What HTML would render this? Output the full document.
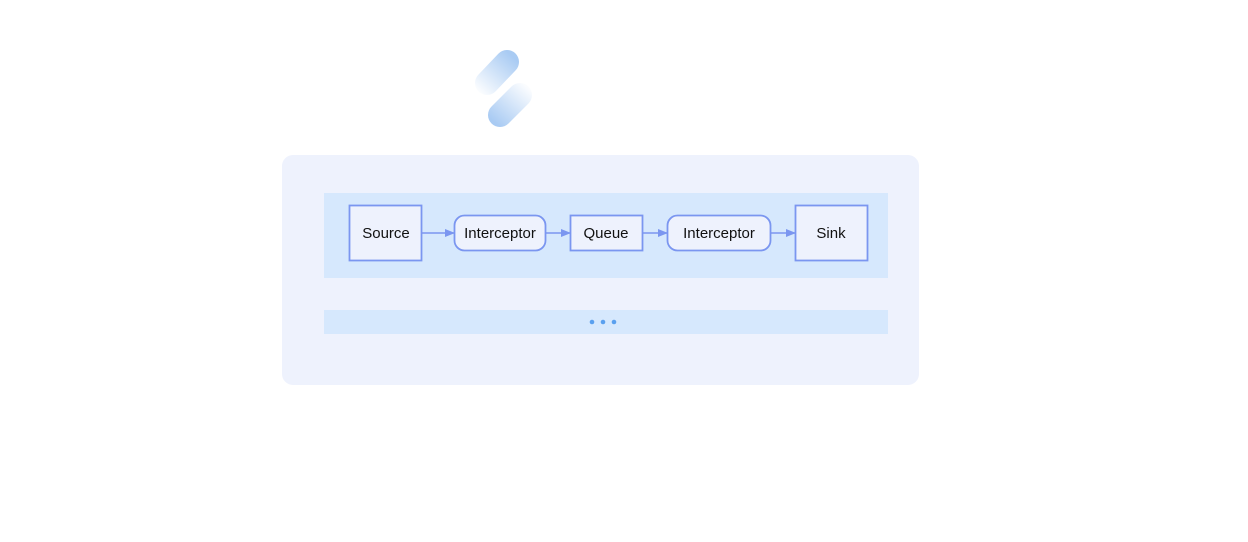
<!DOCTYPE html>
<html><head><style>body{margin:0;background:#fff}svg{display:block}</style></head><body>
<svg width="1248" height="542" viewBox="0 0 1248 542" xmlns="http://www.w3.org/2000/svg" font-family="Liberation Sans, sans-serif">
<defs>
<linearGradient id="g1" gradientUnits="userSpaceOnUse" x1="512" y1="56" x2="480" y2="92"><stop offset="0" stop-color="#a9cbf3"/><stop offset="1" stop-color="#a9cbf3" stop-opacity="0.05"/></linearGradient>
<linearGradient id="g2" gradientUnits="userSpaceOnUse" x1="526" y1="86" x2="494" y2="122"><stop offset="0" stop-color="#a9cbf3" stop-opacity="0.05"/><stop offset="1" stop-color="#a9cbf3"/></linearGradient>
<marker id="a" markerWidth="10" markerHeight="8" refX="9" refY="4" orient="auto" markerUnits="userSpaceOnUse"><path d="M0,0 L10,4 L0,8z" fill="#7b96f0"/></marker>
</defs>
<line x1="507" y1="62" x2="487" y2="83" stroke="url(#g1)" stroke-width="24" stroke-linecap="round"/>
<line x1="520" y1="95" x2="500" y2="115" stroke="url(#g2)" stroke-width="24" stroke-linecap="round"/>
<rect x="282" y="155" width="637" height="230" rx="11" fill="#eef2fd"/>
<rect x="324" y="193" width="564" height="85" fill="#d6e8fd"/>
<rect x="324" y="310" width="564" height="24" fill="#d6e8fd"/>
<circle cx="592" cy="322" r="2.3" fill="#5aa0ef"/><circle cx="603" cy="322" r="2.3" fill="#5aa0ef"/><circle cx="614" cy="322" r="2.3" fill="#5aa0ef"/>
<g fill="#eef2fd" stroke="#7b96f0" stroke-width="1.8">
<rect x="349.5" y="205.5" width="72" height="55"/>
<rect x="454.5" y="215.5" width="91" height="35" rx="10"/>
<rect x="570.5" y="215.5" width="72" height="35"/>
<rect x="667.5" y="215.5" width="103" height="35" rx="10"/>
<rect x="795.5" y="205.5" width="72" height="55"/>
</g>
<g stroke="#7b96f0" stroke-width="1.5" marker-end="url(#a)">
<line x1="422" y1="233" x2="454" y2="233"/>
<line x1="546" y1="233" x2="570" y2="233"/>
<line x1="643" y1="233" x2="667" y2="233"/>
<line x1="771" y1="233" x2="795" y2="233"/>
</g>
<g font-size="15" fill="#111" text-anchor="middle">
<text x="386" y="238">Source</text>
<text x="500" y="238">Interceptor</text>
<text x="606" y="238">Queue</text>
<text x="719" y="238">Interceptor</text>
<text x="831" y="238">Sink</text>
</g>
</svg>
</body></html>
